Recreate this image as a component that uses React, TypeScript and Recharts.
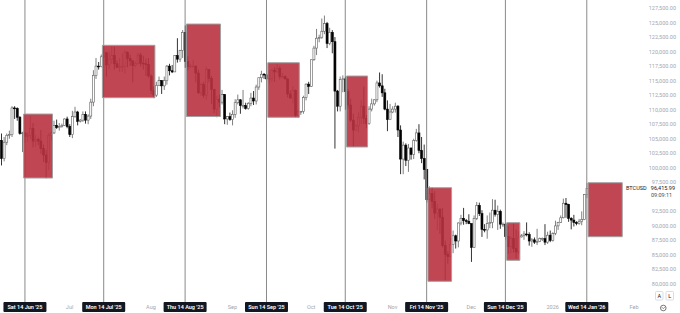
import { Bar, ComposedChart, ReferenceArea, ReferenceLine, XAxis, YAxis } from "recharts";

// daily candles, BTCUSD in thousands: [open, high, low, close]
const FIRST_DAY = Date.UTC(2025, 5, 5);
const AXIS_DAYS = 259; // Jun 5 '25 .. Feb 18 '26 (empty future space on the right)

const jun = [
  [104.7, 105.9, 100.4, 101.6], [101.6, 105.3, 101.1, 104.4], [104.4, 105.9, 103.9, 105.6],
  [105.6, 106.4, 105.0, 105.7], [105.7, 110.6, 105.3, 110.3], [110.3, 110.6, 108.4, 110.2],
  [110.2, 110.4, 108.1, 108.7], [108.7, 108.9, 105.7, 105.9], [105.9, 106.2, 102.7, 106.0],
  [106.0, 106.2, 104.3, 105.4], [105.4, 106.1, 104.5, 105.6], [105.6, 108.9, 104.9, 106.8],
  [106.8, 107.7, 103.5, 104.6], [104.6, 105.6, 103.6, 104.9], [104.9, 105.2, 103.9, 104.6],
  [104.6, 106.5, 102.4, 103.3], [103.3, 104.0, 101.0, 102.2], [102.2, 103.1, 98.2, 100.9],
  [100.9, 106.0, 99.6, 105.6], [105.6, 106.3, 104.7, 106.0], [106.0, 108.1, 105.8, 107.3],
  [107.3, 108.3, 106.7, 106.9], [106.9, 107.7, 106.4, 107.1], [107.1, 107.6, 106.9, 107.3],
  [107.3, 108.5, 107.2, 108.4], [108.4, 108.8, 106.8, 107.1],
];
const jul = [
  [107.1, 107.5, 105.3, 105.7], [105.7, 109.8, 105.1, 108.8], [108.8, 110.5, 108.6, 109.6],
  [109.6, 109.8, 107.3, 108.0], [108.0, 108.4, 107.8, 108.2], [108.2, 109.7, 107.9, 109.2],
  [109.2, 109.7, 107.6, 108.2], [108.2, 109.2, 107.5, 108.9], [108.9, 111.9, 108.4, 111.3],
  [111.3, 116.8, 110.6, 115.9], [115.9, 118.9, 115.3, 117.5], [117.5, 118.2, 116.9, 117.4],
  [117.4, 119.5, 117.3, 119.1], [119.1, 120.9, 118.9, 119.8], [119.8, 119.9, 115.7, 117.7],
  [117.7, 120.0, 116.9, 118.7], [118.7, 120.9, 117.9, 119.3], [119.3, 120.8, 116.9, 117.9],
  [117.9, 118.5, 117.3, 117.3], [117.3, 118.9, 116.5, 117.4], [117.4, 119.7, 116.5, 117.4],
  [117.4, 120.2, 116.2, 119.9], [119.9, 120.0, 117.3, 118.8], [118.8, 119.5, 117.5, 118.4],
  [118.4, 118.5, 114.7, 117.6], [117.6, 118.3, 117.3, 117.9], [117.9, 119.8, 117.8, 119.4],
  [119.4, 119.8, 117.4, 118.0], [118.0, 119.3, 116.9, 117.9], [117.9, 118.8, 115.8, 117.8],
  [117.8, 118.9, 115.5, 115.8],
];
const aug = [
  [115.8, 116.1, 112.7, 113.3], [113.3, 114.0, 112.0, 112.5], [112.5, 114.8, 112.2, 114.2],
  [114.2, 115.7, 114.1, 115.0], [115.0, 115.1, 112.7, 114.1], [114.1, 115.7, 113.4, 115.0],
  [115.0, 117.7, 114.3, 117.5], [117.5, 117.9, 115.9, 116.7], [116.7, 117.7, 116.3, 116.5],
  [116.5, 119.3, 116.5, 119.3], [119.3, 122.3, 118.1, 118.7], [118.7, 120.3, 118.2, 120.2],
  [120.2, 123.7, 118.9, 123.3], [123.3, 124.5, 117.2, 118.3], [118.3, 119.2, 116.8, 117.4],
  [117.4, 117.9, 117.2, 117.5], [117.5, 118.6, 117.3, 117.5], [117.5, 117.6, 114.7, 116.3],
  [116.3, 116.9, 112.7, 112.9], [112.9, 114.6, 112.4, 114.3], [114.3, 114.8, 112.0, 112.5],
  [112.5, 117.4, 111.7, 116.9], [116.9, 117.0, 114.7, 115.4], [115.4, 115.8, 111.0, 113.5],
  [113.5, 113.6, 109.4, 110.1], [110.1, 112.4, 108.7, 111.8], [111.8, 112.6, 110.4, 111.3],
  [111.3, 113.4, 110.9, 112.6], [112.6, 112.7, 107.5, 108.4], [108.4, 108.9, 107.4, 108.8],
  [108.8, 109.5, 108.1, 108.3],
];
const sep = [
  [108.3, 109.9, 107.3, 109.2], [109.2, 111.8, 108.6, 111.2], [111.2, 112.6, 110.9, 111.7],
  [111.7, 111.8, 109.3, 110.7], [110.7, 113.4, 110.2, 110.7], [110.7, 111.2, 110.0, 110.2],
  [110.2, 111.3, 110.0, 111.1], [111.1, 112.9, 110.6, 112.0], [112.0, 113.2, 110.8, 111.5],
  [111.5, 114.3, 110.9, 113.9], [113.9, 115.5, 113.4, 115.5], [115.5, 116.7, 114.7, 116.1],
  [116.1, 116.3, 115.3, 116.0], [116.0, 116.1, 114.8, 115.3], [115.3, 116.8, 114.4, 115.4],
  [115.4, 117.0, 114.8, 116.8], [116.8, 117.3, 114.8, 116.5], [116.5, 117.9, 116.4, 117.1],
  [117.1, 117.5, 115.2, 115.7], [115.7, 116.3, 115.5, 115.7], [115.7, 115.9, 115.2, 115.3],
  [115.3, 115.4, 112.1, 112.7], [112.7, 113.3, 111.9, 112.0], [112.0, 114.0, 111.1, 113.3],
  [113.3, 113.5, 108.7, 109.0], [109.0, 110.0, 108.6, 109.7], [109.7, 109.8, 109.1, 109.7],
  [109.7, 112.4, 109.3, 112.1], [112.1, 114.5, 111.6, 114.4], [114.4, 114.8, 112.7, 114.0],
];
const oct = [
  [114.0, 118.6, 113.9, 118.6], [118.6, 121.0, 118.4, 120.6], [120.6, 123.9, 119.4, 122.3],
  [122.3, 122.9, 121.6, 122.4], [122.4, 125.7, 122.2, 123.5], [123.5, 126.2, 123.0, 124.8],
  [124.8, 125.1, 120.6, 121.4], [121.4, 124.1, 121.1, 123.3], [123.3, 123.7, 119.7, 121.7],
  [121.7, 122.5, 103.3, 113.2], [113.2, 113.4, 109.7, 110.6], [110.6, 115.7, 109.7, 115.2],
  [115.2, 115.9, 113.0, 115.3], [115.3, 115.7, 110.0, 113.1], [113.1, 113.6, 110.2, 110.8],
  [110.8, 111.9, 107.9, 108.2], [108.2, 109.3, 103.6, 106.5], [106.5, 107.5, 106.4, 107.2],
  [107.2, 109.5, 106.1, 108.7], [108.7, 111.7, 107.5, 110.6], [110.6, 114.0, 107.5, 108.5],
  [108.5, 109.1, 106.8, 107.6], [107.6, 110.6, 107.4, 110.1], [110.1, 111.9, 109.7, 111.0],
  [111.0, 111.8, 110.7, 111.7], [111.7, 115.0, 111.3, 114.6], [114.6, 116.4, 113.8, 114.1],
  [114.1, 116.1, 112.2, 112.9], [112.9, 113.6, 109.9, 110.1], [110.1, 111.6, 106.3, 108.3],
  [108.3, 111.0, 108.3, 109.6],
];
const nov = [
  [109.6, 110.6, 109.4, 110.1], [110.1, 111.2, 109.5, 110.6], [110.6, 110.8, 105.3, 106.5],
  [106.5, 107.3, 98.9, 101.5], [101.5, 104.5, 98.9, 103.9], [103.9, 104.2, 100.3, 101.3],
  [101.3, 104.1, 99.3, 103.4], [103.4, 103.5, 101.4, 102.3], [102.3, 105.0, 101.5, 104.7],
  [104.7, 106.7, 104.5, 106.0], [106.0, 107.5, 102.5, 103.0], [103.0, 105.3, 100.8, 101.6],
  [101.6, 104.0, 98.0, 99.7], [99.7, 99.8, 94.0, 94.5], [94.5, 96.8, 94.4, 95.6],
  [95.6, 96.6, 93.0, 94.2], [94.2, 96.0, 91.2, 92.2], [92.2, 93.8, 89.3, 92.9],
  [92.9, 93.0, 88.6, 91.5], [91.5, 93.1, 86.3, 86.6], [86.6, 87.5, 80.6, 85.1],
  [85.1, 85.6, 83.5, 84.7], [84.7, 88.0, 84.6, 86.8], [86.8, 89.2, 85.3, 88.3],
  [88.3, 88.5, 86.1, 87.4], [87.4, 90.6, 86.3, 90.5], [90.5, 91.9, 90.1, 91.3],
  [91.3, 93.1, 90.2, 90.9], [90.9, 91.2, 90.3, 90.8], [90.8, 92.0, 90.3, 90.4],
];
const dec = [
  [90.4, 90.4, 83.8, 86.3], [86.3, 91.8, 86.2, 91.3], [91.3, 94.1, 91.0, 93.5],
  [93.5, 94.0, 91.7, 92.1], [92.1, 92.7, 88.1, 89.4], [89.4, 90.3, 88.9, 89.3],
  [89.3, 91.8, 87.8, 90.4], [90.4, 92.3, 89.6, 90.6], [90.6, 94.6, 89.6, 92.7],
  [92.7, 94.5, 91.6, 92.0], [92.0, 93.5, 89.3, 92.5], [92.5, 92.8, 89.5, 90.3],
  [90.3, 90.6, 89.8, 90.3], [90.3, 90.5, 87.6, 88.2], [88.2, 90.0, 85.2, 86.4],
  [86.4, 88.2, 85.3, 87.8], [87.8, 90.4, 85.4, 86.1], [86.1, 89.4, 84.4, 85.5],
  [85.5, 89.1, 85.1, 88.1], [88.1, 88.6, 88.0, 88.3], [88.3, 89.1, 87.6, 88.6],
  [88.6, 90.6, 88.2, 88.5], [88.5, 88.9, 86.6, 87.4], [87.4, 87.9, 86.4, 87.6],
  [87.6, 88.0, 86.9, 87.2], [87.2, 89.5, 86.7, 87.3], [87.3, 88.0, 87.2, 87.8],
  [87.8, 88.0, 87.4, 87.8], [87.8, 90.3, 86.7, 87.2], [87.2, 89.0, 86.9, 88.4],
  [88.4, 89.2, 87.2, 87.5],
];
const jan = [
  [87.5, 88.9, 87.3, 88.7], [88.7, 90.9, 88.4, 90.0], [90.0, 90.7, 89.3, 90.6],
  [90.6, 91.8, 90.5, 91.4], [91.4, 94.7, 91.3, 93.9], [93.9, 94.8, 91.4, 93.7],
  [93.7, 93.8, 90.7, 91.3], [91.3, 91.5, 89.4, 91.0], [91.0, 91.9, 89.9, 90.6],
  [90.6, 90.8, 90.1, 90.4], [90.4, 91.2, 90.2, 90.8], [90.8, 92.5, 90.1, 91.1],
  [91.1, 95.5, 91.0, 95.4], [95.4, 97.4, 94.8, 96.416],
];

const markerDays = ["2025-06-14", "2025-07-14", "2025-08-14", "2025-09-14", "2025-10-14", "2025-11-14", "2025-12-14", "2026-01-14"];
const markerLabels = ["Sat 14 Jun '25", "Mon 14 Jul '25", "Thu 14 Aug '25", "Sun 14 Sep '25", "Tue 14 Oct '25", "Fri 14 Nov '25", "Sun 14 Dec '25", "Wed 14 Jan '26"];
const monthDays = ["2025-07-01", "2025-08-01", "2025-09-01", "2025-10-01", "2025-11-01", "2025-12-01", "2026-01-01", "2026-02-01"];
const monthLabels = ["Jul", "Aug", "Sep", "Oct", "Nov", "Dec", "2026", "Feb"];

const priceTicks = [80, 82.5, 85, 87.5, 90, 92.5, 97.5, 100, 102.5, 105, 107.5, 110, 112.5, 115, 117.5, 120, 122.5, 125, 127.5];

// drawn rectangles
const boxStart = ["2025-06-14", "2025-07-14", "2025-08-15", "2025-09-15", "2025-10-15", "2025-11-15", "2025-12-15", "2026-01-15"];
const boxEnd = ["2025-06-24", "2025-08-02", "2025-08-27", "2025-09-26", "2025-10-22", "2025-11-23", "2025-12-19", "2026-01-27"];
const boxTop = [109.25, 121.08, 124.74, 118.08, 115.79, 96.57, 90.55, 97.43];
const boxBottom = [98.24, 112.06, 108.82, 108.69, 103.58, 80.46, 84.08, 88.14];

const candles = [...jun, ...jul, ...aug, ...sep, ...oct, ...nov, ...dec, ...jan];

const dayKey = (i: number) => new Date(FIRST_DAY + i * 86400000).toISOString().slice(0, 10);

const data = Array.from({ length: AXIS_DAYS }, (_, i) => {
  const c = candles[i];
  if (!c) return { d: dayKey(i) };
  return { d: dayKey(i), o: c[0], h: c[1], l: c[2], c: c[3], range: [c[2], c[1]] };
});

const FONT = "Roboto, 'Liberation Sans', sans-serif";

function Candle(props: any) {
  const { x, y, width, height, payload } = props;
  if (!payload || payload.o == null || !isFinite(y) || !isFinite(height)) return null;
  const { o, h, l, c } = payload;
  const k = height / (h - l);
  const cx = x + width / 2;
  const up = c >= o;
  const top = y + (h - Math.max(o, c)) * k;
  const bot = y + (h - Math.min(o, c)) * k;
  const bodyH = Math.max(bot - top, 0.8);
  const edge = up ? "#5f5f5f" : "#000";
  return (
    <g>
      <line x1={cx} y1={y} x2={cx} y2={y + height} stroke={edge} strokeWidth={0.8} />
      <rect x={cx - 1} y={top} width={2} height={bodyH} fill={up ? "#fff" : "#000"} stroke={edge} strokeWidth={0.6} />
    </g>
  );
}

function DateTick(props: any) {
  const { x, y, payload } = props;
  const v: string = payload.value;
  const mi = markerDays.indexOf(v);
  if (mi >= 0) {
    return (
      <g>
        <line x1={x} y1={y} x2={x} y2={y + 7} stroke="#8a8a8a" strokeWidth={1} />
        <rect x={x - 21.5} y={y + 7} width={43} height={10} rx={1} fill="#131722" />
        <text x={x} y={y + 14} textAnchor="middle" fontSize={5.5} fontWeight={600} fill="#fff" fontFamily={FONT}>
          {markerLabels[mi]}
        </text>
      </g>
    );
  }
  const ni = monthDays.indexOf(v);
  return (
    <text x={x} y={y + 14} textAnchor="middle" fontSize={5.5} fill="#a3a6af" fontFamily={FONT}>
      {monthLabels[ni]}
    </text>
  );
}

function PriceTick(props: any) {
  const { y, payload } = props;
  const label = (payload.value * 1000).toLocaleString("en-US", { minimumFractionDigits: 2, maximumFractionDigits: 2 });
  return (
    <text x={676} y={y + 2} textAnchor="end" fontSize={5.5} fill="#a3a6af" fontFamily={FONT}>
      {label}
    </text>
  );
}

export default function App() {
  return (
    <div style={{ position: "absolute", left: 0, top: 0, width: 680, height: 313, background: "#fff" }}>
      <ComposedChart width={680} height={313} data={data} margin={{ top: 0, right: 0, bottom: 0, left: 0 }} barCategoryGap={0}>
        <XAxis
          dataKey="d"
          ticks={[...markerDays, ...monthDays]}
          interval={0}
          height={18}
          axisLine={false}
          tickLine={false}
          tickSize={0}
          tickMargin={0}
          tick={<DateTick />}
        />
        <YAxis
          orientation="right"
          mirror
          width={60}
          domain={[78.107, 128.877]}
          allowDataOverflow
          ticks={priceTicks}
          interval={0}
          axisLine={false}
          tickLine={false}
          tick={<PriceTick />}
        />
        {markerDays.map((d) => (
          <ReferenceLine key={d} x={d} stroke="#8a8a8a" strokeWidth={1} />
        ))}
        <Bar dataKey="range" shape={<Candle />} isAnimationActive={false} />
        {boxStart.map((s, i) => (
          <ReferenceArea
            key={s}
            x1={s}
            x2={boxEnd[i]}
            y1={boxBottom[i]}
            y2={boxTop[i]}
            fill="#b8323f"
            fillOpacity={0.9}
            stroke="#a0a0a0"
            strokeWidth={1}
            strokeOpacity={1}
            {...({ zIndex: 650 } as any)}
          />
        ))}
      </ComposedChart>
      <svg width={680} height={313} style={{ position: "absolute", left: 0, top: 0, pointerEvents: "none" }}>
        <text x={626} y={190} fontSize={5.5} fill="#131722" fontFamily={FONT}>BTCUSD</text>
        <text x={675} y={190} textAnchor="end" fontSize={5.5} fill="#131722" fontFamily={FONT}>96,415.99</text>
        <text x={651} y={196.5} fontSize={5.5} fill="#4a4a4a" fontFamily={FONT}>09:09:11</text>
        <rect x={655.5} y={291.5} width={7.5} height={8.5} rx={1} fill="#fff" stroke="#d1d4dc" strokeWidth={0.8} />
        <text x={659.25} y={298} textAnchor="middle" fontSize={5.5} fill="#131722" fontFamily={FONT}>A</text>
        <rect x={666} y={291.5} width={7.5} height={8.5} rx={1} fill="#fff" stroke="#d1d4dc" strokeWidth={0.8} />
        <text x={669.75} y={298} textAnchor="middle" fontSize={5.5} fill="#131722" fontFamily={FONT}>L</text>
        <circle cx={663.3} cy={308} r={2.8} fill="none" stroke="#555" strokeWidth={0.8} />
        <path d="M661.9 307.2 L663.3 308.6 L664.7 307.2" fill="none" stroke="#555" strokeWidth={0.7} />
      </svg>
    </div>
  );
}
